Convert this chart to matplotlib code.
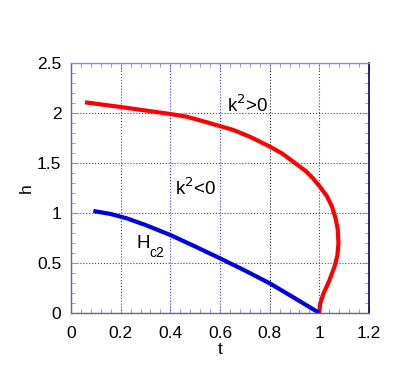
import matplotlib
matplotlib.use("Agg")
import matplotlib.pyplot as plt
from matplotlib.ticker import MultipleLocator

plt.rcParams['font.family'] = ['Liberation Sans', 'DejaVu Sans']

# red curve: k^2 = 0 boundary
red_t = [0.056, 0.20, 0.30, 0.40, 0.466, 0.55, 0.654, 0.72, 0.80, 0.85, 0.902, 0.945, 0.975, 1.0, 1.03, 1.05, 1.064, 1.074, 1.077, 1.073, 1.062, 1.040, 1.016, 1.003, 1.0]
red_h = [2.107, 2.06, 2.025, 1.99, 1.963, 1.905, 1.83, 1.763, 1.665, 1.595, 1.50, 1.42, 1.345, 1.27, 1.17, 1.07, 0.96, 0.84, 0.70, 0.58, 0.47, 0.323, 0.19, 0.09, 0.0]

# blue curve: Hc2
blue_t = [0.09, 0.16, 0.224, 0.30, 0.40, 0.50, 0.60, 0.70, 0.80, 0.90, 1.0]
blue_h = [1.02, 0.99, 0.947, 0.88, 0.78, 0.665, 0.547, 0.425, 0.297, 0.15, 0.0]

xticks = [0, 0.2, 0.4, 0.6, 0.8, 1.0, 1.2]
xticklabels = ['0', '0.2', '0.4', '0.6', '0.8', '1', '1.2']
yticks = [0, 0.5, 1.0, 1.5, 2.0, 2.5]
yticklabels = ['0', '0.5', '1', '1.5', '2', '2.5']

fig = plt.figure(figsize=(4.09, 3.75), dpi=100)
ax = fig.add_axes([71/409, 1 - 313/375, 298/409, 250/375])

ax.plot(red_t, red_h, color='#ff0000', lw=3, solid_capstyle='butt', solid_joinstyle='round')
ax.plot(blue_t, blue_h, color='#0000dd', lw=3, solid_capstyle='butt', solid_joinstyle='round')

ax.set_xlim(0, 1.2)
ax.set_ylim(0, 2.5)
ax.set_xticks(xticks)
ax.set_xticklabels(xticklabels)
ax.set_yticks(yticks)
ax.set_yticklabels(yticklabels)
ax.xaxis.set_minor_locator(MultipleLocator(0.04))
ax.yaxis.set_minor_locator(MultipleLocator(0.1))
ax.tick_params(which='both', direction='in', top=True, right=True, colors='#8888bb',
               labelcolor='black', labelsize=12.5)
ax.tick_params(which='major', length=5, width=0.6)
ax.tick_params(which='minor', length=3, width=0.6)
ax.tick_params(axis='x', which='major', pad=9)
ax.tick_params(axis='y', which='major', pad=7)
ax.grid(True, which='major', color='#3333ee', linestyle=':', linewidth=0.8)
for gl, v in zip(ax.get_xgridlines(), xticks):
    if abs(v - 0.8) < 1e-6:
        gl.set_color('#111133')
for s in ['left', 'bottom']:
    ax.spines[s].set_color('#666688')
    ax.spines[s].set_linewidth(1.0)
ax.spines['top'].set_color('#8888dd')
ax.spines['top'].set_linewidth(1.0)
ax.spines['right'].set_color('#000066')
ax.spines['right'].set_linewidth(1.2)

ax.set_xlabel('t', fontsize=12.5, labelpad=1)
ax.set_ylabel('h', fontsize=12.5, labelpad=2)

ax.text(0.63, 2.01, r'k$^2$>0', fontsize=13.5, ha='left', va='baseline')
ax.text(0.42, 1.18, r'k$^2$<0', fontsize=13.5, ha='left', va='baseline')
ax.text(0.265, 0.65, r'H', fontsize=13.5, ha='left', va='baseline')
ax.text(0.317, 0.56, r'c2', fontsize=10, ha='left', va='baseline')

fig.savefig('out.png', dpi=100)
